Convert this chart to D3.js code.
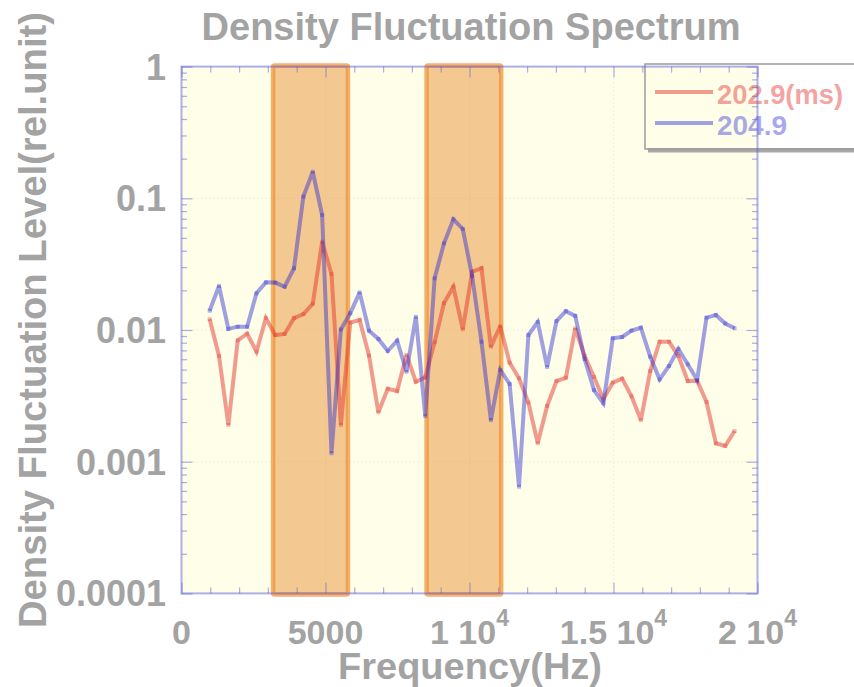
<!DOCTYPE html>
<html>
<head>
<meta charset="utf-8">
<script src="https://cdn.jsdelivr.net/npm/d3@7"></script>
<style>
  html, body { margin: 0; padding: 0; background: #ffffff; }
  svg { display: block; }
  text { font-family: "Liberation Sans", Arial, sans-serif; font-weight: bold; fill: #a3a3a3; }
</style>
</head>
<body>
<svg id="chart" width="854" height="687"></svg>
<script>
// Frequency bins (Hz)
const freqs = [
  976.6, 1302.1, 1627.6, 1953.1, 2278.6, 2604.2, 2929.7, 3255.2, 3580.7, 3906.2,
  4231.8, 4557.3, 4882.8, 5208.3, 5533.8, 5859.4, 6184.9, 6510.4, 6835.9, 7161.5,
  7487.0, 7812.5, 8138.0, 8463.5, 8789.1, 9114.6, 9440.1, 9765.6, 10091.1, 10416.7,
  10742.2, 11067.7, 11393.2, 11718.8, 12044.3, 12369.8, 12695.3, 13020.8, 13346.4, 13671.9,
  13997.4, 14322.9, 14648.4, 14974.0, 15299.5, 15625.0, 15950.5, 16276.0, 16601.6, 16927.1,
  17252.6, 17578.1, 17903.6, 18229.2, 18554.7, 18880.2, 19205.7
];

// Fluctuation level at t = 202.9 ms
const level2029 = [
  0.0121, 0.00635, 0.00190, 0.00835, 0.00937, 0.00685, 0.0123, 0.00916, 0.00933, 0.0123,
  0.0132, 0.0158, 0.0468, 0.0266, 0.00190, 0.0114, 0.0119, 0.00640, 0.00237, 0.00358,
  0.00344, 0.00646, 0.00405, 0.00437, 0.00807, 0.0160, 0.0213, 0.0101, 0.0277, 0.0294,
  0.00747, 0.0107, 0.00565, 0.00430, 0.00281, 0.00138, 0.00265, 0.00410, 0.00434, 0.0103,
  0.00635, 0.00440, 0.00299, 0.00398, 0.00427, 0.00314, 0.00207, 0.00488, 0.00815, 0.00815,
  0.00635, 0.00410, 0.00412, 0.00284, 0.00138, 0.00132, 0.00171
];

// Fluctuation level at t = 204.9 ms
const level2049 = [
  0.0140, 0.0216, 0.0102, 0.0106, 0.0106, 0.0190, 0.0230, 0.0229, 0.0213, 0.0294,
  0.103, 0.159, 0.0747, 0.00116, 0.0101, 0.0134, 0.0193, 0.00988, 0.00855, 0.00693,
  0.00829, 0.00482, 0.0126, 0.00222, 0.0247, 0.0455, 0.0693, 0.0585, 0.0257, 0.00815,
  0.00207, 0.00497, 0.00389, 0.000646, 0.00916, 0.0115, 0.00524, 0.0117, 0.0139, 0.0128,
  0.00602, 0.00350, 0.00278, 0.00865, 0.00885, 0.00988, 0.0104, 0.00627, 0.00422, 0.00533,
  0.00717, 0.00549, 0.00417, 0.0124, 0.0130, 0.0112, 0.0103
];

// Highlighted frequency bands (Hz)
const bandStart = [3180, 8510];
const bandEnd = [5780, 11100];

// Tick labels
const xTickValues = [0, 5000, 10000, 15000, 20000];
const xTickMain = ["0", "5000", "1 10", "1.5 10", "2 10"];
const xTickSup = ["", "", "4", "4", "4"];
const yTickValues = [1, 0.1, 0.01, 0.001, 0.0001];
const yTickLabels = ["1", "0.1", "0.01", "0.001", "0.0001"];

const seriesNames = ["202.9(ms)", "204.9"];

const svg = d3.select("#chart");
const L = 181.5, R = 757.5, T = 66.6, B = 593.4;

const x = d3.scaleLinear().domain([0, 20000]).range([L, R]);
const y = d3.scaleLog().domain([1e-4, 1]).range([B, T]);

const frameColor = "rgba(95,95,220,0.5)";
const redCol = "rgb(228,45,40)";
const blueCol = "rgb(30,30,215)";

// Plot background
svg.append("rect").attr("x", L).attr("y", T).attr("width", R - L).attr("height", B - T)
  .attr("fill", "#fefee9");

// Faint dotted grid at major ticks
const gridG = svg.append("g");
xTickValues.slice(1, -1).forEach(v => {
  gridG.append("line").attr("x1", x(v)).attr("x2", x(v)).attr("y1", T).attr("y2", B)
    .attr("stroke", "rgba(190,190,140,0.35)").attr("stroke-dasharray", "1,3");
});
yTickValues.slice(1, -1).forEach(v => {
  gridG.append("line").attr("x1", L).attr("x2", R).attr("y1", y(v)).attr("y2", y(v))
    .attr("stroke", "rgba(190,190,140,0.35)").attr("stroke-dasharray", "1,3");
});

// Highlighted bands
const bands = bandStart.map((s, i) => ({ s, e: bandEnd[i] }));
svg.append("g").selectAll("rect").data(bands).join("rect")
  .attr("x", d => x(d.s)).attr("y", y(1) - 1)
  .attr("width", d => x(d.e) - x(d.s)).attr("height", y(1e-4) - y(1) + 2)
  .attr("rx", 1.5)
  .attr("fill", "rgba(234,148,58,0.5)")
  .attr("stroke", "rgba(240,140,45,0.68)").attr("stroke-width", 4.5)
  .attr("stroke-linejoin", "round");

// Series lines with joint markers
function drawSeries(vals, col, op) {
  const pts = freqs.map((f, i) => [x(f), y(vals[i])]);
  svg.append("g").attr("opacity", op)
    .append("path").attr("d", d3.line()(pts))
    .attr("fill", "none").attr("stroke", col).attr("stroke-width", 4)
    .attr("stroke-linejoin", "miter").attr("stroke-miterlimit", 3);
  svg.append("g").attr("opacity", 0.3).selectAll("rect").data(pts).join("rect")
    .attr("x", d => d[0] - 2).attr("y", d => d[1] - 2)
    .attr("width", 4).attr("height", 4).attr("fill", col);
}
drawSeries(level2029, redCol, 0.47);
drawSeries(level2049, blueCol, 0.42);

// Legend (no fill, drop shadow)
const lg = svg.append("g");
lg.append("rect").attr("x", 648).attr("y", 148).attr("width", 220).attr("height", 4.5)
  .attr("fill", "#a8a8a8");
lg.append("rect").attr("x", 645).attr("y", 64).attr("width", 230).attr("height", 85)
  .attr("fill", "none").attr("stroke", "#9c9c9c").attr("stroke-width", 1.5);
const legendItems = [
  { name: seriesNames[0], col: redCol, op: 0.47, ly: 92, ty: 103.5, len: 126 },
  { name: seriesNames[1], col: blueCol, op: 0.42, ly: 123, ty: 135, len: 70 }
];
legendItems.forEach(it => {
  lg.append("line").attr("x1", 655).attr("x2", 713).attr("y1", it.ly).attr("y2", it.ly)
    .attr("stroke", it.col).attr("stroke-width", 4).attr("opacity", it.op);
  lg.append("text").attr("x", 717).attr("y", it.ty).text(it.name)
    .style("font-size", "28px").style("fill", it.col).attr("opacity", it.op - 0.04)
    .attr("textLength", it.len).attr("lengthAdjust", "spacingAndGlyphs");
});

// Axes (ticks inward on all four sides)
const xMinor = d3.range(0, 20001, 1000);
const yMinor = [];
[1e-4, 1e-3, 1e-2, 1e-1].forEach(dec => { for (let k = 1; k < 10; k++) yMinor.push(dec * k); });
yMinor.push(1);

function styleAxis(g) {
  g.select(".domain").remove();
  g.selectAll("text").remove();
  g.selectAll(".tick line").attr("stroke", frameColor).attr("stroke-width", 1.2);
}
const majX = new Set(xTickValues);
const isMajY = v => Math.abs(Math.log10(v) - Math.round(Math.log10(v))) < 1e-9;

const axB = svg.append("g").attr("transform", `translate(0,${B})`)
  .call(d3.axisTop(x).tickValues(xMinor).tickSizeOuter(0));
axB.selectAll(".tick line").attr("y2", d => majX.has(d) ? -11 : -6);
styleAxis(axB);
const axT = svg.append("g").attr("transform", `translate(0,${T})`)
  .call(d3.axisBottom(x).tickValues(xMinor).tickSizeOuter(0));
axT.selectAll(".tick line").attr("y2", d => majX.has(d) ? 11 : 6);
styleAxis(axT);
const axL = svg.append("g").attr("transform", `translate(${L},0)`)
  .call(d3.axisRight(y).tickValues(yMinor).tickSizeOuter(0));
axL.selectAll(".tick line").attr("x2", d => isMajY(d) ? 11 : 5.5);
styleAxis(axL);
const axR = svg.append("g").attr("transform", `translate(${R},0)`)
  .call(d3.axisLeft(y).tickValues(yMinor).tickSizeOuter(0));
axR.selectAll(".tick line").attr("x2", d => isMajY(d) ? -11 : -5.5);
styleAxis(axR);

// Frame
svg.append("rect").attr("x", L).attr("y", T).attr("width", R - L).attr("height", B - T)
  .attr("fill", "none").attr("stroke", frameColor).attr("stroke-width", 2);

// Tick labels
const xl = svg.append("g");
xTickValues.forEach((v, i) => {
  const t = xl.append("text").attr("x", x(v)).attr("y", 644).attr("text-anchor", "middle")
    .style("font-size", "34px");
  t.append("tspan").text(xTickMain[i]);
  if (xTickSup[i]) {
    t.append("tspan").text(xTickSup[i]).attr("dy", -18).style("font-size", "23px");
  }
});
svg.append("g").selectAll("text").data(yTickValues).join("text")
  .attr("x", 166).attr("y", d => y(d) + 13).attr("text-anchor", "end")
  .style("font-size", "36px")
  .text((d, i) => yTickLabels[i]);

// Titles
svg.append("text").attr("x", 471).attr("y", 40).attr("text-anchor", "middle")
  .style("font-size", "38px").attr("textLength", 539).attr("lengthAdjust", "spacingAndGlyphs")
  .text("Density Fluctuation Spectrum");
svg.append("text").attr("x", 470).attr("y", 679).attr("text-anchor", "middle")
  .style("font-size", "36px").attr("textLength", 264).attr("lengthAdjust", "spacingAndGlyphs")
  .text("Frequency(Hz)");
svg.append("text").attr("transform", "translate(46,320) rotate(-90)").attr("text-anchor", "middle")
  .style("font-size", "38px").attr("textLength", 616).attr("lengthAdjust", "spacingAndGlyphs")
  .text("Density Fluctuation Level(rel.unit)");
</script>
</body>
</html>
